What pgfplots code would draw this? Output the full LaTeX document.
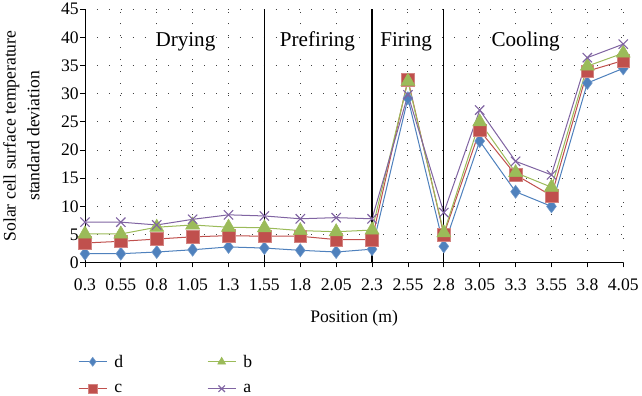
\documentclass[border=0pt]{standalone}
\usepackage{fontspec}
\setmainfont{Liberation Serif}
\usepackage{pgfplots}
\pgfplotsset{compat=1.18}
\definecolor{cd}{HTML}{4F81BD}
\definecolor{cc}{HTML}{C0504D}
\definecolor{cb}{HTML}{9BBB59}
\definecolor{ca}{HTML}{8064A2}
\begin{document}
\begin{tikzpicture}
\begin{axis}[
  scale only axis,
  width=533bp, height=251bp,
  xmin=0, xmax=15, ymin=0, ymax=45,
  axis lines=left,
  axis line style={-, black, line width=0.9bp},
  xtick={0,...,15},
  xticklabels={0.3,0.55,0.8,1.05,1.3,1.55,1.8,2.05,2.3,2.55,2.8,3.05,3.3,3.55,3.8,4.05},
  ytick={0,5,...,45},
  tick align=outside,
  major tick length=4.5bp,
  tick style={black, line width=0.8bp},
  grid=major,
  major grid style={black!75, line width=0.9bp, dash pattern=on 0.9bp off 10.9bp},
  /pgf/number format/assume math mode=true,
  tick label style={font=\fontsize{17.5}{19}\selectfont},
  xticklabel style={yshift=-8bp},
  yticklabel style={inner xsep=1.5bp},
  label style={font=\fontsize{17.5}{23.5}\selectfont},
  xlabel={Position (m)},
  ylabel={Solar cell surface temperature\\standard deviation},
  ylabel style={align=center, at={(axis description cs:-0.118,0.5)}, anchor=center},
  xlabel style={at={(axis description cs:0.5,-0.22)}, anchor=center},
  legend columns=2,
  legend style={transpose legend, draw=none, fill=none, inner sep=0pt,
    at={(axis description cs:-0.0132,-0.355)}, anchor=north west,
    font=\fontsize{17.5}{20}\selectfont,
    /tikz/every even column/.append style={column sep=81bp},
    row sep=11bp},
  legend cell align=left,
  legend image code/.code={\draw[mark repeat=2,mark phase=2,#1] plot coordinates {(0bp,0bp)(14bp,0bp)(28bp,0bp)}; \path (33bp,0bp);},
  every legend image post/.append style={mark size=4.5bp},
  every axis plot/.append style={line width=1bp},
]
\addplot[color=cd, mark=diamond*, mark size=6.5bp, mark options={fill=cd, draw=cd!80!white, line width=0.5bp}]
 coordinates {(0,1.6)(1,1.6)(2,1.9)(3,2.3)(4,2.8)(5,2.6)(6,2.2)(7,1.9)(8,2.4)(9,29.2)(10,2.9)(11,21.6)(12,12.6)(13,10.0)(14,31.9)(15,34.5)};
\addlegendentry{d}
\addplot[color=cc, mark=square*, mark size=6.3bp, mark options={fill=cc, draw=cc!70!white, line width=0.5bp}]
 coordinates {(0,3.5)(1,3.8)(2,4.2)(3,4.6)(4,4.8)(5,4.7)(6,4.7)(7,4.1)(8,4.1)(9,32.5)(10,5.0)(11,23.5)(12,15.6)(13,11.9)(14,34.0)(15,35.9)};
\addlegendentry{c}
\addplot[color=cb, mark=triangle*, mark size=8bp, mark options={fill=cb, draw=cb, line width=0.5bp}]
 coordinates {(0,5.1)(1,5.1)(2,6.3)(3,6.7)(4,6.3)(5,6.2)(6,5.7)(7,5.5)(8,5.8)(9,32.2)(10,5.3)(11,25.0)(12,16.0)(13,13.4)(14,34.9)(15,37.2)};
\addlegendentry{b}
\addplot[color=ca, mark=x, mark size=6.5bp, mark options={line width=1.1bp}]
 coordinates {(0,7.2)(1,7.2)(2,6.7)(3,7.7)(4,8.5)(5,8.3)(6,7.8)(7,8.0)(8,7.8)(9,29.8)(10,8.9)(11,27.1)(12,18.0)(13,15.6)(14,36.4)(15,38.8)};
\addlegendentry{a}
\draw[black, line width=1.2bp] (axis cs:5,0) -- (axis cs:5,45);
\draw[black, line width=1.2bp] (axis cs:8,0) -- (axis cs:8,45);
\draw[black, line width=1.2bp] (axis cs:10,0) -- (axis cs:10,45);
\node[fill=white, inner sep=1bp, font=\fontsize{21}{23}\selectfont] at (axis cs:2.8,39.3) {Drying};
\node[fill=white, inner sep=1bp, font=\fontsize{21}{23}\selectfont] at (axis cs:6.48,39.3) {Prefiring};
\node[fill=white, inner sep=1bp, font=\fontsize{21}{23}\selectfont] at (axis cs:8.95,39.3) {Firing};
\node[fill=white, inner sep=1bp, font=\fontsize{21}{23}\selectfont] at (axis cs:12.28,39.3) {Cooling};
\path (axis description cs:-0.1726,-0.5378) rectangle (axis description cs:1.0319,1.0478);
\end{axis}
\end{tikzpicture}
\end{document}
